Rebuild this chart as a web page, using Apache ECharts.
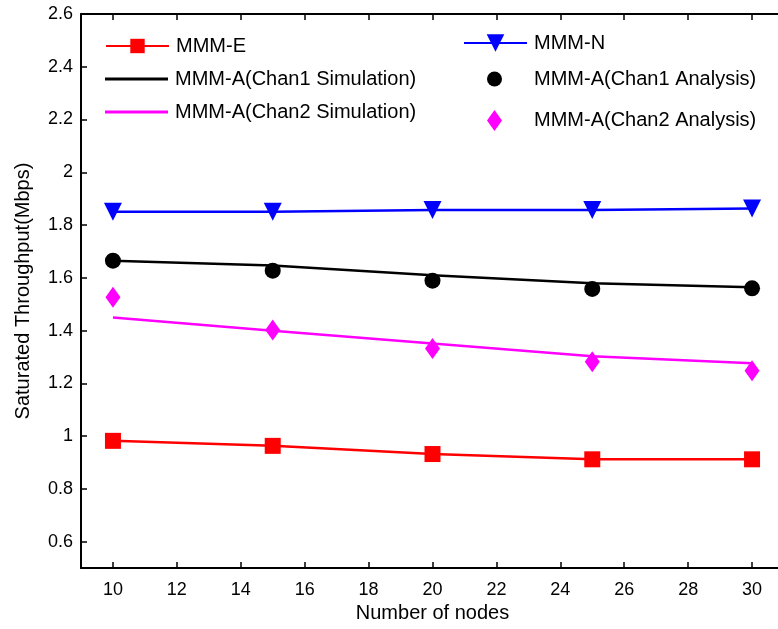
<!DOCTYPE html>
<html>
<head>
<meta charset="utf-8">
<script src="https://cdn.jsdelivr.net/npm/echarts@6/dist/echarts.min.js"></script>
<style>
  html, body { margin: 0; padding: 0; background: #fff; }
  #chart { width: 778px; height: 629px; }
</style>
</head>
<body>
<div id="chart"></div>
<script>
  // number of nodes
  var nodes = [10, 15, 20, 25, 30];
  var mmmE = [0.982, 0.963, 0.932, 0.912, 0.912];
  var mmmN = [1.850, 1.850, 1.857, 1.857, 1.863];
  var chan1Sim = [1.665, 1.647, 1.610, 1.579, 1.564];
  var chan1Ana = [1.665, 1.627, 1.589, 1.558, 1.560];
  var chan2Sim = [1.450, 1.399, 1.351, 1.303, 1.276];
  var chan2Ana = [1.526, 1.402, 1.332, 1.282, 1.248];
  var xTicks = [10, 12, 14, 16, 18, 20, 22, 24, 26, 28, 30];
  var yTicks = [0.6, 0.8, 1, 1.2, 1.4, 1.6, 1.8, 2, 2.2, 2.4, 2.6];

  function pairs(ys) {
    return nodes.map(function (x, i) { return [x, ys[i]]; });
  }

  var font = 'Liberation Sans, Arial, sans-serif';
  var chart = echarts.init(document.getElementById('chart'));

  // one legend per entry so each row sits where the original has it
  function legendAt(name, left, top, opt) {
    opt = opt || {};
    return {
      data: [opt.icon ? {name: name, icon: opt.icon} : name],
      left: left,
      top: top,
      itemWidth: opt.w || 63,
      itemHeight: opt.h || 18,
      itemGap: 0,
      padding: 0,
      textStyle: {
        fontSize: 20, color: '#000', fontFamily: font,
        padding: [0, 0, 0, opt.pad || 2],
      },
    };
  }

  var axisLine = {lineStyle: {color: '#000', width: 2}};
  var tick = {inside: true, length: 6, lineStyle: {color: '#000', width: 1.5}};

  chart.setOption({
    backgroundColor: '#fff',
    animation: false,
    textStyle: {fontFamily: font},
    grid: {left: 81, top: 14, width: 703, height: 554, outerBoundsMode: 'none'},
    legend: [
      legendAt('MMM-E', 105, 36),
      legendAt('MMM-A(Chan1 Simulation)', 105, 69, {icon: 'rect', h: 3}),
      legendAt('MMM-A(Chan2 Simulation)', 105, 102, {icon: 'rect', h: 3}),
      legendAt('MMM-N', 463, 33, {h: 22}),
      legendAt('MMM-A(Chan1 Analysis)', 487, 69, {icon: 'circle', w: 15, h: 15, pad: 27}),
      legendAt('MMM-A(Chan2 Analysis)', 487, 110, {icon: 'diamond', w: 15, h: 21, pad: 27}),
    ],
    xAxis: [
      {
        type: 'value',
        min: 9,
        max: 31,
        name: 'Number of nodes',
        nameLocation: 'middle',
        nameGap: 27,
        nameTextStyle: {fontSize: 20, color: '#000'},
        axisLine: axisLine,
        axisTick: Object.assign({customValues: xTicks}, tick),
        axisLabel: {customValues: xTicks, fontSize: 18, color: '#000', margin: 13},
        splitLine: {show: false},
      },
      {
        type: 'value',
        position: 'top',
        min: 9,
        max: 31,
        axisLine: axisLine,
        axisTick: Object.assign({customValues: xTicks}, tick),
        axisLabel: {show: false},
        splitLine: {show: false},
      }],
    yAxis: [
      {
        type: 'value',
        min: 0.5,
        max: 2.6,
        name: 'Saturated Throughput(Mbps)',
        nameLocation: 'middle',
        nameGap: 48,
        nameTextStyle: {fontSize: 20, color: '#000'},
        axisLine: axisLine,
        axisTick: Object.assign({customValues: yTicks}, tick),
        axisLabel: {customValues: yTicks, fontSize: 18, color: '#000', margin: 8},
        splitLine: {show: false},
      },
      {
        type: 'value',
        position: 'right',
        min: 0.5,
        max: 2.6,
        axisLine: axisLine,
        axisTick: Object.assign({customValues: yTicks}, tick),
        axisLabel: {show: false},
        splitLine: {show: false},
      }],
    series: [
      {
        name: 'MMM-E',
        type: 'line',
        data: pairs(mmmE),
        symbol: 'rect',
        symbolSize: 16,
        color: '#ff0000',
        lineStyle: {width: 2.5},
      },
      {
        name: 'MMM-A(Chan1 Simulation)',
        type: 'line',
        data: pairs(chan1Sim),
        symbol: 'none',
        color: '#000000',
        lineStyle: {width: 2.5},
      },
      {
        name: 'MMM-A(Chan2 Simulation)',
        type: 'line',
        data: pairs(chan2Sim),
        symbol: 'none',
        color: '#ff00ff',
        lineStyle: {width: 2.5},
      },
      {
        name: 'MMM-N',
        type: 'line',
        data: pairs(mmmN),
        symbol: 'triangle',
        symbolRotate: 180,
        symbolSize: 18,
        color: '#0000ff',
        lineStyle: {width: 2.5},
      },
      {
        name: 'MMM-A(Chan1 Analysis)',
        type: 'scatter',
        data: pairs(chan1Ana),
        symbol: 'circle',
        symbolSize: 16,
        color: '#000000',
        itemStyle: {opacity: 1},
      },
      {
        name: 'MMM-A(Chan2 Analysis)',
        type: 'scatter',
        data: pairs(chan2Ana),
        symbol: 'diamond',
        symbolSize: [15, 21],
        color: '#ff00ff',
        itemStyle: {opacity: 1},
      }],
  });
</script>
</body>
</html>
